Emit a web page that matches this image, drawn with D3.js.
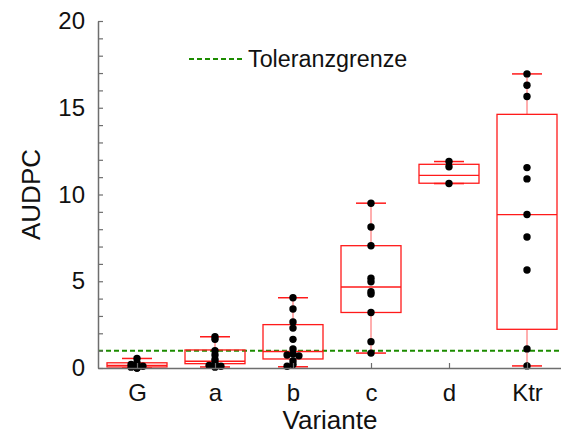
<!DOCTYPE html>
<html>
<head>
<meta charset="utf-8">
<script src="https://cdn.jsdelivr.net/npm/d3@7"></script>
<style>
  body { margin: 0; background: #fff; }
  svg { font-family: "Liberation Sans", Arial, sans-serif; }
</style>
</head>
<body>
<div id="chart"></div>
<script>
'use strict';

// categories and raw values
const categories = ['G', 'a', 'b', 'c', 'd', 'Ktr'];
const valuesG   = [0.55, 0.3, 0.2, 0.12, 0.1, 0.08, 0.05, 0.03, 0.0, 0.0];
const valuesA   = [1.8, 1.65, 1.0, 0.75, 0.5, 0.33, 0.18, 0.15, 0.1, 0.05];
const valuesB   = [4.05, 3.4, 2.65, 2.3, 1.65, 1.1, 0.8, 0.75, 0.7, 0.4, 0.2, 0.1];
const valuesC   = [9.5, 8.13, 7.05, 5.17, 4.97, 4.4, 4.26, 3.2, 1.52, 0.86];
const valuesD   = [11.9, 11.6, 10.63];
const valuesKtr = [16.95, 16.3, 15.65, 11.55, 10.9, 8.85, 7.55, 5.65, 1.1, 0.12];

// box statistics as drawn
const whiskerLow  = [0.0, 0.06, 0.07, 0.86, 10.63, 0.12];
const q1          = [0.06, 0.25, 0.52, 3.2, 10.65, 2.23];
const median      = [0.15, 0.39, 0.95, 4.67, 11.1, 8.84];
const q3          = [0.3, 1.04, 2.5, 7.05, 11.74, 14.62];
const whiskerHigh = [0.55, 1.8, 4.05, 9.5, 11.9, 16.95];

const tolerance = 1.0;
const yMajorTicks = [0, 5, 10, 15, 20];
const yMinorTicks = [1, 2, 3, 4, 6, 7, 8, 9, 11, 12, 13, 14, 16, 17, 18, 19];

const allValues = [valuesG, valuesA, valuesB, valuesC, valuesD, valuesKtr];

const width = 561;
const height = 437;
const plotLeft = 98, plotRight = 566, plotTop = 21, plotBottom = 368;

const svg = d3.select('#chart')
  .append('svg')
  .attr('width', width)
  .attr('height', height);

const x = d3.scalePoint()
  .domain(categories)
  .range([plotLeft, plotRight])
  .padding(0.5);

const y = d3.scaleLinear()
  .domain([0, 20])
  .range([plotBottom, plotTop]);

const axisColor = '#6e6e6e';
const boxColor = '#ff1a1a';
const boxW = 60;
const capW = 30;
const r = 3.7;

// tolerance line
svg.append('line')
  .attr('x1', plotLeft).attr('x2', width)
  .attr('y1', y(tolerance)).attr('y2', y(tolerance))
  .attr('stroke', '#1c8c00')
  .attr('stroke-width', 2)
  .attr('stroke-dasharray', '5,3');

// boxes
const boxes = svg.append('g').selectAll('g')
  .data(categories)
  .enter()
  .append('g')
  .attr('transform', d => `translate(${x(d)},0)`);

boxes.append('line')
  .attr('y1', (d, i) => y(whiskerHigh[i]))
  .attr('y2', (d, i) => y(q3[i]))
  .attr('stroke', boxColor).attr('stroke-opacity', 0.7);
boxes.append('line')
  .attr('y1', (d, i) => y(q1[i]))
  .attr('y2', (d, i) => y(whiskerLow[i]))
  .attr('stroke', boxColor).attr('stroke-opacity', 0.7);
boxes.append('line')
  .attr('x1', -capW / 2).attr('x2', capW / 2)
  .attr('y1', (d, i) => y(whiskerHigh[i])).attr('y2', (d, i) => y(whiskerHigh[i]))
  .attr('stroke', boxColor).attr('stroke-width', 1.5);
boxes.append('line')
  .attr('x1', -capW / 2).attr('x2', capW / 2)
  .attr('y1', (d, i) => y(whiskerLow[i])).attr('y2', (d, i) => y(whiskerLow[i]))
  .attr('stroke', boxColor).attr('stroke-width', 1.5);
boxes.append('rect')
  .attr('x', -boxW / 2)
  .attr('width', boxW)
  .attr('y', (d, i) => y(q3[i]))
  .attr('height', (d, i) => y(q1[i]) - y(q3[i]))
  .attr('fill', 'none')
  .attr('stroke', boxColor)
  .attr('stroke-width', 1.3);
boxes.append('line')
  .attr('x1', -boxW / 2).attr('x2', boxW / 2)
  .attr('y1', (d, i) => y(median[i])).attr('y2', (d, i) => y(median[i]))
  .attr('stroke', boxColor).attr('stroke-width', 1.3);

// dots, nudged sideways only where they nearly coincide
function dodge(vals) {
  const placed = [];
  vals.slice().sort((a, b) => b - a).forEach(v => {
    const py = y(v);
    const offsets = [0, -1.6 * r, 1.6 * r];
    let off = 0;
    for (const o of offsets) {
      const clash = placed.some(p => Math.abs(p.dx - o) < r && Math.abs(p.py - py) < 2.2);
      if (!clash) { off = o; break; }
    }
    placed.push({ v: v, py: py, dx: off });
  });
  return placed;
}

categories.forEach((c, i) => {
  svg.append('g')
    .selectAll('circle')
    .data(dodge(allValues[i]))
    .enter()
    .append('circle')
    .attr('cx', d => x(c) + d.dx)
    .attr('cy', d => y(d.v))
    .attr('r', r)
    .attr('fill', '#000');
});

// axes
svg.append('g')
  .attr('transform', `translate(${plotLeft},0)`)
  .call(d3.axisLeft(y).tickValues(yMajorTicks).tickSizeInner(-5).tickSizeOuter(0).tickPadding(13));
const yMinor = svg.append('g')
  .attr('transform', `translate(${plotLeft},0)`)
  .call(d3.axisLeft(y).tickValues(yMinorTicks).tickSizeInner(-5).tickSizeOuter(0).tickFormat(''));
yMinor.select('.domain').remove();

svg.append('g')
  .attr('transform', `translate(0,${plotBottom})`)
  .call(d3.axisBottom(x).tickSizeInner(-5).tickSizeOuter(0).tickPadding(16));

svg.selectAll('.domain')
  .attr('stroke', axisColor)
  .attr('stroke-width', 1.5);
svg.selectAll('.tick line')
  .attr('stroke', axisColor)
  .attr('stroke-width', 1.2);
svg.selectAll('.tick text')
  .attr('font-size', 24)
  .attr('font-family', '"Liberation Sans", Arial, sans-serif')
  .attr('fill', '#111');

// axis titles
svg.append('text')
  .attr('transform', `translate(40,${(plotTop + plotBottom) / 2}) rotate(-90)`)
  .attr('text-anchor', 'middle')
  .attr('font-size', 26)
  .attr('fill', '#111')
  .text('AUDPC');

svg.append('text')
  .attr('x', 330)
  .attr('y', 429)
  .attr('text-anchor', 'middle')
  .attr('font-size', 26)
  .attr('fill', '#111')
  .text('Variante');

// legend
svg.append('line')
  .attr('x1', 189).attr('x2', 242)
  .attr('y1', 59).attr('y2', 59)
  .attr('stroke', '#1c8c00')
  .attr('stroke-width', 2)
  .attr('stroke-dasharray', '5,3');
svg.append('text')
  .attr('x', 248)
  .attr('y', 67)
  .attr('font-size', 23.3)
  .attr('fill', '#111')
  .text('Toleranzgrenze');
</script>
</body>
</html>
